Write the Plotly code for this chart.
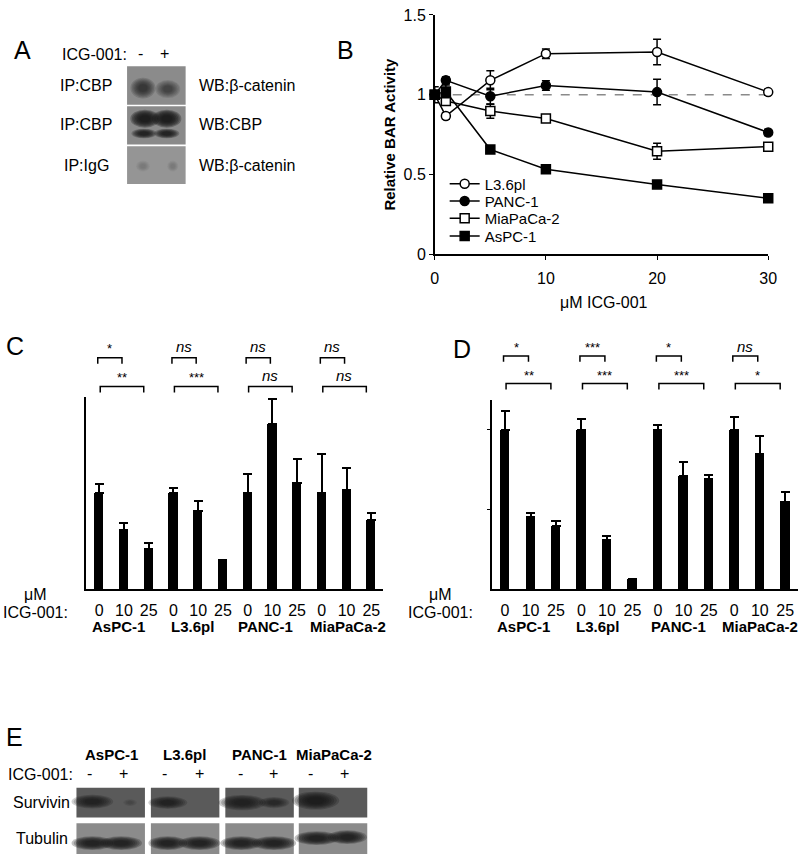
import plotly.graph_objects as go

W, H = 800, 855          # reference pixel grid
FIG_W, FIG_H = 807, 862  # figure size (compensates page scaling)
FONT = "Arial, Liberation Sans, Helvetica, sans-serif"

# ---------------- Panel B data ----------------
doses = [0, 1, 5, 10, 20, 30]
b_L36 = [1.0, 0.866, 1.09, 1.257, 1.268, 1.016]
b_L36_err = [0.0, 0.02, 0.06, 0.03, 0.08, 0.02]
b_PANC = [1.0, 1.09, 0.99, 1.057, 1.016, 0.763]
b_PANC_err = [0.0, 0.02, 0.05, 0.03, 0.08, 0.02]
b_MIA = [1.0, 0.96, 0.897, 0.851, 0.645, 0.674]
b_MIA_err = [0.0, 0.02, 0.045, 0.02, 0.05, 0.02]
b_ASPC = [1.0, 1.02, 0.656, 0.532, 0.437, 0.35]
b_ASPC_err = [0.05, 0.04, 0.02, 0.02, 0.02, 0.02]

# ---------------- Panel C / D data ----------------
cell_lines = ["AsPC-1", "L3.6pl", "PANC-1", "MiaPaCa-2"]
conc_labels = ["0", "10", "25"]
c_vals = [1.0, 0.62, 0.42, 1.0, 0.82, 0.28, 1.0, 1.72, 1.11, 1.0, 1.03, 0.72]
c_err = [0.10, 0.07, 0.06, 0.055, 0.10, 0.02, 0.20, 0.26, 0.25, 0.41, 0.23, 0.07]
c_sig_near = ["*", "ns", "ns", "ns"]
c_sig_far = ["**", "***", "ns", "ns"]
d_vals = [1.0, 0.45, 0.395, 1.0, 0.306, 0.064, 1.0, 0.71, 0.69, 1.0, 0.85, 0.55]
d_err = [0.12, 0.03, 0.03, 0.07, 0.03, 0.0, 0.03, 0.09, 0.025, 0.08, 0.11, 0.06]
d_sig_near = ["*", "***", "*", "ns"]
d_sig_far = ["**", "***", "***", "*"]


def px(x):
    return x / W


def py(y):
    return 1 - y / H


fig = go.Figure()
shapes = []
annots = []


def text(x, y, s, size=16, bold=False, italic=False, xanchor="center", angle=0):
    if bold:
        s = "<b>" + s + "</b>"
    if italic:
        s = "<i>" + s + "</i>"
    annots.append(dict(x=px(x), y=py(y), xref="paper", yref="paper", text=s,
                       showarrow=False, xanchor=xanchor, yanchor="middle",
                       textangle=angle, font=dict(family=FONT, size=size, color="black")))


def rect(x0, y0, x1, y1, color):
    shapes.append(dict(type="rect", xref="paper", yref="paper", x0=px(x0), x1=px(x1),
                       y0=py(y1), y1=py(y0), fillcolor=color, line=dict(width=0), layer="below"))


def band(cx, cy, w, h, strength, color="#161616"):
    for s in [1.4, 1.25, 1.1, 0.95, 0.8, 0.65, 0.5]:
        shapes.append(dict(type="circle", xref="paper", yref="paper",
                           x0=px(cx - w * s / 2), x1=px(cx + w * s / 2),
                           y0=py(cy + h * s / 2), y1=py(cy - h * s / 2),
                           fillcolor=color, opacity=min(1.0, 0.22 * strength),
                           line=dict(width=0)))


# ---------------- Panel B ----------------
fig.add_trace(go.Scatter(x=[doses[0], doses[-1]], y=[1, 1], mode="lines",
                         line=dict(color="#8a8a8a", width=1.5, dash="dash"),
                         showlegend=False, hoverinfo="skip", xaxis="x", yaxis="y"))
series = [("L3.6pl", b_L36, b_L36_err, "circle", "white", "legend"),
          ("PANC-1", b_PANC, b_PANC_err, "circle", "black", "legend2"),
          ("MiaPaCa-2", b_MIA, b_MIA_err, "square", "white", "legend3"),
          ("AsPC-1", b_ASPC, b_ASPC_err, "square", "black", "legend4")]
for name, ys, errs, sym, fill, leg in series:
    fig.add_trace(go.Scatter(
        x=doses, y=ys, mode="lines+markers", name=name, legend=leg,
        line=dict(color="black", width=1.5),
        marker=dict(symbol=sym, size=9, color=fill, line=dict(color="black", width=1.5)),
        error_y=dict(type="data", array=errs, color="black", thickness=1.5, width=4),
        cliponaxis=False, xaxis="x", yaxis="y"))

# ---------------- Panel C / D bars ----------------
bar_x = list(range(len(c_vals)))
fig.add_trace(go.Bar(x=bar_x, y=c_vals, width=0.37, marker=dict(color="black", line=dict(width=0)),
                     error_y=dict(type="data", array=c_err, arrayminus=[0] * len(c_err),
                                  symmetric=False, color="black", thickness=2, width=4.5),
                     showlegend=False, xaxis="x2", yaxis="y2"))
fig.add_trace(go.Bar(x=bar_x, y=d_vals, width=0.37, marker=dict(color="black", line=dict(width=0)),
                     error_y=dict(type="data", array=d_err, arrayminus=[0] * len(d_err),
                                  symmetric=False, color="black", thickness=2, width=4.5),
                     showlegend=False, xaxis="x3", yaxis="y3"))


def brackets(xref, near, far, ny, fy, nty, fty, axx0, axscale):
    for g in range(4):
        i = 3 * g
        for (a, b, yy, ty, lab) in [(i - 0.06, i + 0.92, ny, nty, near[g]),
                                    (i + 0.04, i + 1.8, fy, fty, far[g])]:
            shapes.append(dict(type="path", xref=xref, yref="paper",
                               path=f"M {a},{py(yy + 6)} L {a},{py(yy)} L {b},{py(yy)} L {b},{py(yy + 6)}",
                               line=dict(color="black", width=1.5)))
            xc = axx0 + ((a + b) / 2) * axscale
            if lab == "ns":
                text(xc, ty, "ns", size=15, italic=True)
            else:
                text(xc, ty + 2, lab, size=13)


brackets("x2", c_sig_near, c_sig_far, 354, 383, 343, 372, 96, 24.9)
brackets("x3", d_sig_near, d_sig_far, 352, 380, 342, 370, 505, 25.6)

# C / D bottom labels
for lx, labs_x in [(32, [115, 190, 263, 347]), (440, [523, 598, 680, 762])]:
    text(lx, 593, "μM", size=16)
    text(lx, 612, "ICG-001:", size=16)
    for cx, lab in zip(labs_x, cell_lines):
        text(cx, 626, lab, size=15, bold=True)

# ---------------- Panel A ----------------
text(8, 42, "A", size=25, xanchor="left")
text(91, 47, "ICG-001:", size=16)
text(138, 46, "-", size=16)
text(162, 46, "+", size=16)
rect(124, 59, 183, 98, "#8b8b8b")
rect(124, 99.5, 183, 138, "#8a8a8a")
rect(124, 140, 183, 178, "#959595")
band(140, 81, 18, 15, 0.75)
band(165, 82, 18, 13, 0.5)
band(142, 112, 21, 13, 1.4)
band(164, 112, 21, 13, 1.4)
band(141, 127, 18, 7, 1.1)
band(164, 127, 18, 7, 1.1)
band(140, 160, 10, 8, 0.15)
band(170, 160, 8, 8, 0.15)
for yy, l, r in [(78, "IP:CBP", "WB:β-catenin"), (118, "IP:CBP", "WB:CBP"), (159, "IP:IgG", "WB:β-catenin")]:
    text(83, yy, l, size=16)
    text(194, yy, r, size=16, xanchor="left")

# ---------------- Panel B text ----------------
text(333, 42, "B", size=25, xanchor="left")
text(388, 128, "Relative BAR Activity", size=15, bold=True, angle=-90)
text(605, 298, "μM ICG-001", size=16)

# ---------------- Panel C/D letters ----------------
text(0, 342, "C", size=25, xanchor="left")
text(450, 345, "D", size=25, xanchor="left")

# ---------------- Panel E ----------------
text(0, 738, "E", size=25, xanchor="left")
for cx, lab in zip([108, 182, 257, 332], cell_lines):
    text(cx, 755, lab, size=15, bold=True)
text(72, 776, "ICG-001:", size=16, xanchor="right")
for xm, xp in [(86, 120), (162, 197), (238, 272), (309, 343)]:
    text(xm, 775, "-", size=16)
    text(xp, 775, "+", size=16)
text(38, 804, "Survivin", size=16)
text(38, 840, "Tubulin", size=16)
for x0, x1 in [(73, 142), (148, 217), (223, 292), (297, 366)]:
    rect(x0, 789, x1, 819, "#5a5a5a")
    rect(x0, 825, x1, 856, "#8b8b8b")
# survivin bands
band(89, 803, 30, 10, 0.9)
band(127, 804, 10, 5, 0.2)
band(165, 804, 28, 9, 0.9)
band(240, 804, 34, 11, 1.0)
band(272, 804, 22, 8, 0.75)
band(314, 802, 34, 13, 1.1)
# tubulin bands
for cx, cy, w in [(89, 845, 30), (118, 845, 30), (165, 845, 28), (197, 845, 30),
                  (239, 845, 30), (272, 845, 32), (315, 840, 32), (346, 839, 28)]:
    band(cx, cy, w, 10, 1.2)

axis_common = dict(showgrid=False, zeroline=False, showline=True, linecolor="black",
                   linewidth=1.5, tickcolor="black", tickfont=dict(family=FONT, size=16, color="black"))


def leg(yc):
    return dict(x=px(444), y=py(yc - 5), xanchor="left", yanchor="middle",
                bgcolor="rgba(0,0,0,0)", font=dict(family=FONT, size=15, color="black"),
                itemwidth=30, borderwidth=0)


fig.update_layout(
    width=FIG_W, height=FIG_H, autosize=False,
    margin=dict(l=0, r=0, t=0, b=0),
    paper_bgcolor="white", plot_bgcolor="white",
    font=dict(family=FONT, color="black"),
    showlegend=True,
    legend=leg(183), legend2=leg(200.5), legend3=leg(218), legend4=leg(236),
    bargap=0,
    xaxis=dict(domain=[px(434), px(770)], range=[0, 30], tickvals=[0, 10, 20, 30],
               ticks="outside", ticklen=4, ticklabelstandoff=5, anchor="y", **axis_common),
    yaxis=dict(domain=[py(249), py(7)], range=[0, 1.5001], tickvals=[0, 0.5, 1, 1.5],
               ticktext=["0", "0.5", "1", "1.5"], ticklabeloverflow="allow",
               ticks="outside", ticklen=4, anchor="x", **axis_common),
    xaxis2=dict(domain=[px(83), px(382)], range=[-0.52, 11.48], tickvals=bar_x,
                ticktext=conc_labels * 4, ticks="", ticklabelstandoff=6, anchor="y2",
                **axis_common),
    yaxis2=dict(domain=[py(588), py(394)], range=[0, 2.0], ticks="", showticklabels=False,
                anchor="x2", **axis_common),
    xaxis3=dict(domain=[px(492), 1.0], range=[-0.5, 11.5], tickvals=bar_x,
                ticktext=conc_labels * 4, ticks="", ticklabelstandoff=6, anchor="y3",
                **axis_common),
    yaxis3=dict(domain=[py(588), py(397)], range=[0, 1.186], tickvals=[0.5, 1.0],
                ticks="outside", ticklen=4, showticklabels=False, anchor="x3", **axis_common),
    shapes=shapes,
    annotations=annots,
)

fig.write_html("out.html", config={"displayModeBar": False},
               post_script="document.documentElement.style.margin='0';document.body.style.margin='0';"
                           "document.documentElement.style.overflow='hidden';document.body.style.overflow='hidden';")
